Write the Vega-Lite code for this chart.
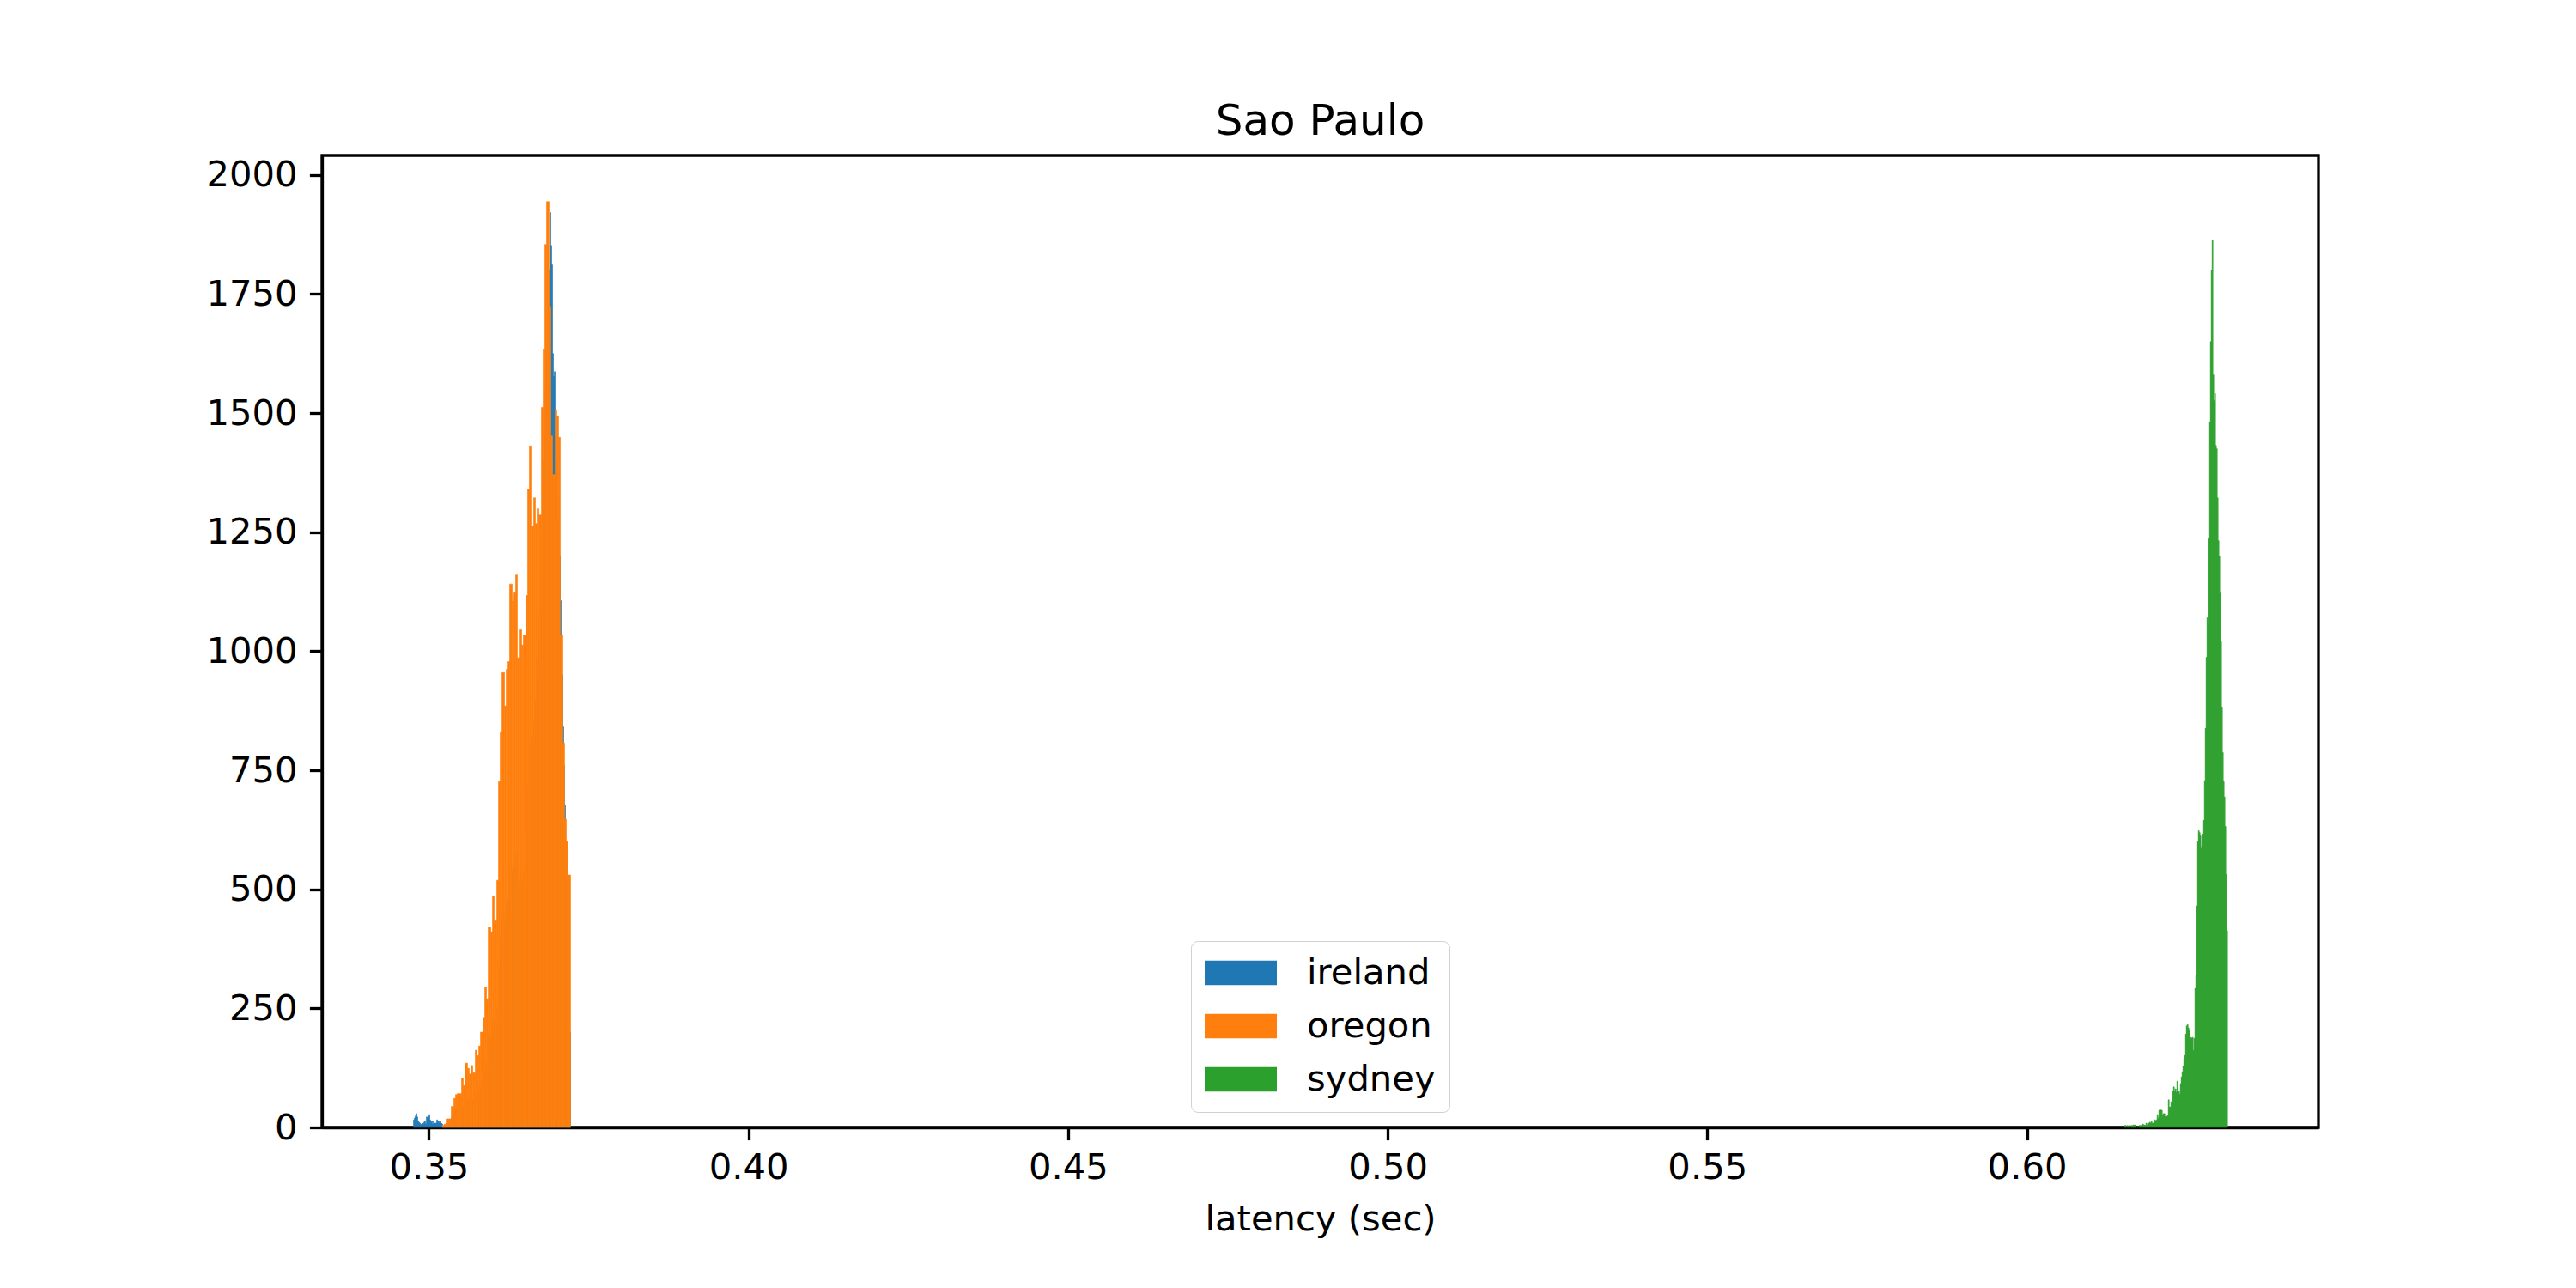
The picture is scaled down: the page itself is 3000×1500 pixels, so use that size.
{
"$schema": "https://vega.github.io/schema/vega-lite/v6.json",
"autosize": {"type": "none"},
"padding": {"left": 375, "top": 181, "right": 300, "bottom": 187},
"width": 2325,
"height": 1132,
"background": "white",
"title": {"text": "Sao Paulo", "fontSize": 50, "font": "DejaVu Sans", "fontWeight": "normal", "color": "black", "offset": 14.5, "anchor": "middle"},
"config": {
  "view": {"stroke": "black", "strokeWidth": 3.3},
  "axis": {"domainColor": "black", "domainWidth": 3.3, "tickColor": "black", "tickWidth": 3.3, "tickSize": 14.6, "labelFont": "DejaVu Sans", "labelFontSize": 41.7, "labelColor": "black", "grid": false, "titleFont": "DejaVu Sans", "titleFontSize": 41.7, "titleFontWeight": "normal", "titleColor": "black", "zindex": 1, "labelFlush": false, "labelOverlap": false}
},
"data": {"values": [
{"s":"ireland","lo":0.347542,"hi":0.347676,"n":16},
{"s":"ireland","lo":0.347676,"hi":0.347811,"n":20},
{"s":"ireland","lo":0.347811,"hi":0.347945,"n":24},
{"s":"ireland","lo":0.347945,"hi":0.348079,"n":29},
{"s":"ireland","lo":0.348079,"hi":0.348214,"n":22},
{"s":"ireland","lo":0.348214,"hi":0.348348,"n":14},
{"s":"ireland","lo":0.348348,"hi":0.348482,"n":11},
{"s":"ireland","lo":0.348482,"hi":0.348616,"n":9},
{"s":"ireland","lo":0.348616,"hi":0.348751,"n":7},
{"s":"ireland","lo":0.348751,"hi":0.348885,"n":5},
{"s":"ireland","lo":0.348885,"hi":0.349019,"n":9},
{"s":"ireland","lo":0.349019,"hi":0.349154,"n":7},
{"s":"ireland","lo":0.349154,"hi":0.349288,"n":11},
{"s":"ireland","lo":0.349288,"hi":0.349422,"n":14},
{"s":"ireland","lo":0.349422,"hi":0.349557,"n":7},
{"s":"ireland","lo":0.349557,"hi":0.349691,"n":22},
{"s":"ireland","lo":0.349691,"hi":0.349825,"n":20},
{"s":"ireland","lo":0.349825,"hi":0.349960,"n":22},
{"s":"ireland","lo":0.349960,"hi":0.350094,"n":27},
{"s":"ireland","lo":0.350094,"hi":0.350228,"n":16},
{"s":"ireland","lo":0.350228,"hi":0.350362,"n":11},
{"s":"ireland","lo":0.350362,"hi":0.350497,"n":13},
{"s":"ireland","lo":0.350497,"hi":0.350631,"n":7},
{"s":"ireland","lo":0.350631,"hi":0.350765,"n":13},
{"s":"ireland","lo":0.350765,"hi":0.350900,"n":9},
{"s":"ireland","lo":0.350900,"hi":0.351034,"n":9},
{"s":"ireland","lo":0.351034,"hi":0.351168,"n":9},
{"s":"ireland","lo":0.351168,"hi":0.351303,"n":16},
{"s":"ireland","lo":0.351303,"hi":0.351437,"n":14},
{"s":"ireland","lo":0.351437,"hi":0.351571,"n":13},
{"s":"ireland","lo":0.351571,"hi":0.351705,"n":9},
{"s":"ireland","lo":0.351705,"hi":0.351840,"n":13},
{"s":"ireland","lo":0.351840,"hi":0.351974,"n":9},
{"s":"ireland","lo":0.351974,"hi":0.352108,"n":7},
{"s":"ireland","lo":0.352108,"hi":0.352243,"n":3},
{"s":"ireland","lo":0.352243,"hi":0.352377,"n":3},
{"s":"ireland","lo":0.352377,"hi":0.352511,"n":4},
{"s":"ireland","lo":0.352511,"hi":0.352646,"n":5},
{"s":"ireland","lo":0.352646,"hi":0.352780,"n":8},
{"s":"ireland","lo":0.352780,"hi":0.352914,"n":9},
{"s":"ireland","lo":0.352914,"hi":0.353048,"n":8},
{"s":"ireland","lo":0.353048,"hi":0.353183,"n":10},
{"s":"ireland","lo":0.353183,"hi":0.353317,"n":12},
{"s":"ireland","lo":0.353317,"hi":0.353451,"n":11},
{"s":"ireland","lo":0.353451,"hi":0.353586,"n":20},
{"s":"ireland","lo":0.353586,"hi":0.353720,"n":22},
{"s":"ireland","lo":0.353720,"hi":0.353854,"n":25},
{"s":"ireland","lo":0.353854,"hi":0.353989,"n":30},
{"s":"ireland","lo":0.353989,"hi":0.354123,"n":28},
{"s":"ireland","lo":0.354123,"hi":0.354257,"n":34},
{"s":"ireland","lo":0.354257,"hi":0.354391,"n":31},
{"s":"ireland","lo":0.354391,"hi":0.354526,"n":35},
{"s":"ireland","lo":0.354526,"hi":0.354660,"n":33},
{"s":"ireland","lo":0.354660,"hi":0.354794,"n":36},
{"s":"ireland","lo":0.354794,"hi":0.354929,"n":38},
{"s":"ireland","lo":0.354929,"hi":0.355063,"n":34},
{"s":"ireland","lo":0.355063,"hi":0.355197,"n":50},
{"s":"ireland","lo":0.355197,"hi":0.355332,"n":46},
{"s":"ireland","lo":0.355332,"hi":0.355466,"n":44},
{"s":"ireland","lo":0.355466,"hi":0.355600,"n":41},
{"s":"ireland","lo":0.355600,"hi":0.355734,"n":62},
{"s":"ireland","lo":0.355734,"hi":0.355869,"n":66},
{"s":"ireland","lo":0.355869,"hi":0.356003,"n":60},
{"s":"ireland","lo":0.356003,"hi":0.356137,"n":58},
{"s":"ireland","lo":0.356137,"hi":0.356272,"n":61},
{"s":"ireland","lo":0.356272,"hi":0.356406,"n":55},
{"s":"ireland","lo":0.356406,"hi":0.356540,"n":52},
{"s":"ireland","lo":0.356540,"hi":0.356675,"n":63},
{"s":"ireland","lo":0.356675,"hi":0.356809,"n":60},
{"s":"ireland","lo":0.356809,"hi":0.356943,"n":55},
{"s":"ireland","lo":0.356943,"hi":0.357077,"n":58},
{"s":"ireland","lo":0.357077,"hi":0.357212,"n":53},
{"s":"ireland","lo":0.357212,"hi":0.357346,"n":75},
{"s":"ireland","lo":0.357346,"hi":0.357480,"n":78},
{"s":"ireland","lo":0.357480,"hi":0.357615,"n":72},
{"s":"ireland","lo":0.357615,"hi":0.357749,"n":70},
{"s":"ireland","lo":0.357749,"hi":0.357883,"n":82},
{"s":"ireland","lo":0.357883,"hi":0.358018,"n":80},
{"s":"ireland","lo":0.358018,"hi":0.358152,"n":95},
{"s":"ireland","lo":0.358152,"hi":0.358286,"n":98},
{"s":"ireland","lo":0.358286,"hi":0.358420,"n":92},
{"s":"ireland","lo":0.358420,"hi":0.358555,"n":110},
{"s":"ireland","lo":0.358555,"hi":0.358689,"n":115},
{"s":"ireland","lo":0.358689,"hi":0.358823,"n":140},
{"s":"ireland","lo":0.358823,"hi":0.358958,"n":135},
{"s":"ireland","lo":0.358958,"hi":0.359092,"n":128},
{"s":"ireland","lo":0.359092,"hi":0.359226,"n":125},
{"s":"ireland","lo":0.359226,"hi":0.359361,"n":195},
{"s":"ireland","lo":0.359361,"hi":0.359495,"n":200},
{"s":"ireland","lo":0.359495,"hi":0.359629,"n":190},
{"s":"ireland","lo":0.359629,"hi":0.359763,"n":190},
{"s":"ireland","lo":0.359763,"hi":0.359898,"n":198},
{"s":"ireland","lo":0.359898,"hi":0.360032,"n":230},
{"s":"ireland","lo":0.360032,"hi":0.360166,"n":225},
{"s":"ireland","lo":0.360166,"hi":0.360301,"n":210},
{"s":"ireland","lo":0.360301,"hi":0.360435,"n":205},
{"s":"ireland","lo":0.360435,"hi":0.360569,"n":215},
{"s":"ireland","lo":0.360569,"hi":0.360704,"n":250},
{"s":"ireland","lo":0.360704,"hi":0.360838,"n":245},
{"s":"ireland","lo":0.360838,"hi":0.360972,"n":340},
{"s":"ireland","lo":0.360972,"hi":0.361106,"n":350},
{"s":"ireland","lo":0.361106,"hi":0.361241,"n":400},
{"s":"ireland","lo":0.361241,"hi":0.361375,"n":390},
{"s":"ireland","lo":0.361375,"hi":0.361509,"n":450},
{"s":"ireland","lo":0.361509,"hi":0.361644,"n":460},
{"s":"ireland","lo":0.361644,"hi":0.361778,"n":440},
{"s":"ireland","lo":0.361778,"hi":0.361912,"n":420},
{"s":"ireland","lo":0.361912,"hi":0.362047,"n":430},
{"s":"ireland","lo":0.362047,"hi":0.362181,"n":470},
{"s":"ireland","lo":0.362181,"hi":0.362315,"n":460},
{"s":"ireland","lo":0.362315,"hi":0.362449,"n":480},
{"s":"ireland","lo":0.362449,"hi":0.362584,"n":470},
{"s":"ireland","lo":0.362584,"hi":0.362718,"n":550},
{"s":"ireland","lo":0.362718,"hi":0.362852,"n":560},
{"s":"ireland","lo":0.362852,"hi":0.362987,"n":540},
{"s":"ireland","lo":0.362987,"hi":0.363121,"n":530},
{"s":"ireland","lo":0.363121,"hi":0.363255,"n":540},
{"s":"ireland","lo":0.363255,"hi":0.363390,"n":550},
{"s":"ireland","lo":0.363390,"hi":0.363524,"n":545},
{"s":"ireland","lo":0.363524,"hi":0.363658,"n":570},
{"s":"ireland","lo":0.363658,"hi":0.363792,"n":580},
{"s":"ireland","lo":0.363792,"hi":0.363927,"n":500},
{"s":"ireland","lo":0.363927,"hi":0.364061,"n":510},
{"s":"ireland","lo":0.364061,"hi":0.364195,"n":490},
{"s":"ireland","lo":0.364195,"hi":0.364330,"n":520},
{"s":"ireland","lo":0.364330,"hi":0.364464,"n":530},
{"s":"ireland","lo":0.364464,"hi":0.364598,"n":510},
{"s":"ireland","lo":0.364598,"hi":0.364733,"n":520},
{"s":"ireland","lo":0.364733,"hi":0.364867,"n":540},
{"s":"ireland","lo":0.364867,"hi":0.365001,"n":560},
{"s":"ireland","lo":0.365001,"hi":0.365135,"n":550},
{"s":"ireland","lo":0.365135,"hi":0.365270,"n":600},
{"s":"ireland","lo":0.365270,"hi":0.365404,"n":620},
{"s":"ireland","lo":0.365404,"hi":0.365538,"n":720},
{"s":"ireland","lo":0.365538,"hi":0.365673,"n":740},
{"s":"ireland","lo":0.365673,"hi":0.365807,"n":800},
{"s":"ireland","lo":0.365807,"hi":0.365941,"n":820},
{"s":"ireland","lo":0.365941,"hi":0.366076,"n":760},
{"s":"ireland","lo":0.366076,"hi":0.366210,"n":780},
{"s":"ireland","lo":0.366210,"hi":0.366344,"n":800},
{"s":"ireland","lo":0.366344,"hi":0.366478,"n":850},
{"s":"ireland","lo":0.366478,"hi":0.366613,"n":880},
{"s":"ireland","lo":0.366613,"hi":0.366747,"n":900},
{"s":"ireland","lo":0.366747,"hi":0.366881,"n":930},
{"s":"ireland","lo":0.366881,"hi":0.367016,"n":980},
{"s":"ireland","lo":0.367016,"hi":0.367150,"n":1020},
{"s":"ireland","lo":0.367150,"hi":0.367284,"n":1080},
{"s":"ireland","lo":0.367284,"hi":0.367419,"n":1120},
{"s":"ireland","lo":0.367419,"hi":0.367553,"n":1160},
{"s":"ireland","lo":0.367553,"hi":0.367687,"n":1250},
{"s":"ireland","lo":0.367687,"hi":0.367821,"n":1300},
{"s":"ireland","lo":0.367821,"hi":0.367956,"n":1400},
{"s":"ireland","lo":0.367956,"hi":0.368090,"n":1450},
{"s":"ireland","lo":0.368090,"hi":0.368224,"n":1550},
{"s":"ireland","lo":0.368224,"hi":0.368359,"n":1620},
{"s":"ireland","lo":0.368359,"hi":0.368493,"n":1700},
{"s":"ireland","lo":0.368493,"hi":0.368627,"n":1750},
{"s":"ireland","lo":0.368627,"hi":0.368762,"n":1800},
{"s":"ireland","lo":0.368762,"hi":0.368896,"n":1690},
{"s":"ireland","lo":0.368896,"hi":0.369030,"n":1921},
{"s":"ireland","lo":0.369030,"hi":0.369164,"n":1852},
{"s":"ireland","lo":0.369164,"hi":0.369299,"n":1811},
{"s":"ireland","lo":0.369299,"hi":0.369433,"n":1625},
{"s":"ireland","lo":0.369433,"hi":0.369567,"n":1577},
{"s":"ireland","lo":0.369567,"hi":0.369702,"n":1587},
{"s":"ireland","lo":0.369702,"hi":0.369836,"n":1450},
{"s":"ireland","lo":0.369836,"hi":0.369970,"n":1400},
{"s":"ireland","lo":0.369970,"hi":0.370105,"n":1380},
{"s":"ireland","lo":0.370105,"hi":0.370239,"n":1330},
{"s":"ireland","lo":0.370239,"hi":0.370373,"n":1280},
{"s":"ireland","lo":0.370373,"hi":0.370507,"n":1200},
{"s":"ireland","lo":0.370507,"hi":0.370642,"n":1106},
{"s":"ireland","lo":0.370642,"hi":0.370776,"n":1000},
{"s":"ireland","lo":0.370776,"hi":0.370910,"n":950},
{"s":"ireland","lo":0.370910,"hi":0.371045,"n":841},
{"s":"ireland","lo":0.371045,"hi":0.371179,"n":760},
{"s":"ireland","lo":0.371179,"hi":0.371313,"n":676},
{"s":"ireland","lo":0.371313,"hi":0.371448,"n":600},
{"s":"ireland","lo":0.371448,"hi":0.371582,"n":520},
{"s":"ireland","lo":0.371582,"hi":0.371716,"n":450},
{"s":"ireland","lo":0.371716,"hi":0.371850,"n":380},
{"s":"ireland","lo":0.371850,"hi":0.371985,"n":300},
{"s":"ireland","lo":0.371985,"hi":0.372119,"n":200},
{"s":"oregon","lo":0.35202,"hi":0.35233,"n":4},
{"s":"oregon","lo":0.35233,"hi":0.35265,"n":7},
{"s":"oregon","lo":0.35265,"hi":0.35305,"n":18},
{"s":"oregon","lo":0.35305,"hi":0.35345,"n":18},
{"s":"oregon","lo":0.35345,"hi":0.35385,"n":44},
{"s":"oregon","lo":0.35385,"hi":0.35412,"n":61},
{"s":"oregon","lo":0.35412,"hi":0.35439,"n":69},
{"s":"oregon","lo":0.35439,"hi":0.35466,"n":71},
{"s":"oregon","lo":0.35466,"hi":0.35506,"n":71},
{"s":"oregon","lo":0.35506,"hi":0.35533,"n":103},
{"s":"oregon","lo":0.35533,"hi":0.35560,"n":88},
{"s":"oregon","lo":0.35560,"hi":0.35600,"n":135},
{"s":"oregon","lo":0.35600,"hi":0.35627,"n":124},
{"s":"oregon","lo":0.35627,"hi":0.35654,"n":112},
{"s":"oregon","lo":0.35654,"hi":0.35681,"n":130},
{"s":"oregon","lo":0.35681,"hi":0.35721,"n":115},
{"s":"oregon","lo":0.35721,"hi":0.35748,"n":162},
{"s":"oregon","lo":0.35748,"hi":0.35775,"n":151},
{"s":"oregon","lo":0.35775,"hi":0.35802,"n":171},
{"s":"oregon","lo":0.35802,"hi":0.35842,"n":200},
{"s":"oregon","lo":0.35842,"hi":0.35869,"n":231},
{"s":"oregon","lo":0.35869,"hi":0.35896,"n":294},
{"s":"oregon","lo":0.35896,"hi":0.35923,"n":270},
{"s":"oregon","lo":0.35923,"hi":0.35963,"n":420},
{"s":"oregon","lo":0.35963,"hi":0.35990,"n":411},
{"s":"oregon","lo":0.35990,"hi":0.36017,"n":485},
{"s":"oregon","lo":0.36017,"hi":0.36057,"n":434},
{"s":"oregon","lo":0.36057,"hi":0.36084,"n":519},
{"s":"oregon","lo":0.36084,"hi":0.36111,"n":726},
{"s":"oregon","lo":0.36111,"hi":0.36138,"n":831},
{"s":"oregon","lo":0.36138,"hi":0.36178,"n":955},
{"s":"oregon","lo":0.36178,"hi":0.36205,"n":885},
{"s":"oregon","lo":0.36205,"hi":0.36232,"n":962},
{"s":"oregon","lo":0.36232,"hi":0.36258,"n":978},
{"s":"oregon","lo":0.36258,"hi":0.36299,"n":1141},
{"s":"oregon","lo":0.36299,"hi":0.36326,"n":1105},
{"s":"oregon","lo":0.36326,"hi":0.36352,"n":1123},
{"s":"oregon","lo":0.36352,"hi":0.36379,"n":1160},
{"s":"oregon","lo":0.36379,"hi":0.36420,"n":986},
{"s":"oregon","lo":0.36420,"hi":0.36446,"n":1045},
{"s":"oregon","lo":0.36446,"hi":0.36473,"n":1013},
{"s":"oregon","lo":0.36473,"hi":0.36514,"n":1034},
{"s":"oregon","lo":0.36514,"hi":0.36540,"n":1117},
{"s":"oregon","lo":0.36540,"hi":0.36567,"n":1340},
{"s":"oregon","lo":0.36567,"hi":0.36594,"n":1431},
{"s":"oregon","lo":0.36594,"hi":0.36634,"n":1263},
{"s":"oregon","lo":0.36634,"hi":0.36661,"n":1322},
{"s":"oregon","lo":0.36661,"hi":0.36688,"n":1268},
{"s":"oregon","lo":0.36688,"hi":0.36715,"n":1299},
{"s":"oregon","lo":0.36715,"hi":0.36755,"n":1286},
{"s":"oregon","lo":0.36755,"hi":0.36782,"n":1512},
{"s":"oregon","lo":0.36782,"hi":0.36809,"n":1634},
{"s":"oregon","lo":0.36809,"hi":0.36836,"n":1854},
{"s":"oregon","lo":0.36836,"hi":0.36876,"n":1944},
{"s":"oregon","lo":0.36876,"hi":0.36903,"n":1724},
{"s":"oregon","lo":0.36903,"hi":0.36930,"n":1452},
{"s":"oregon","lo":0.36930,"hi":0.36970,"n":1371},
{"s":"oregon","lo":0.36970,"hi":0.36997,"n":1506},
{"s":"oregon","lo":0.36997,"hi":0.37024,"n":1494},
{"s":"oregon","lo":0.37024,"hi":0.37051,"n":1449},
{"s":"oregon","lo":0.37051,"hi":0.37091,"n":1034},
{"s":"oregon","lo":0.37091,"hi":0.37118,"n":807},
{"s":"oregon","lo":0.37118,"hi":0.37145,"n":647},
{"s":"oregon","lo":0.37145,"hi":0.37172,"n":600},
{"s":"oregon","lo":0.37172,"hi":0.37212,"n":530},
{"s":"sydney","lo":0.615203,"hi":0.615338,"n":4},
{"s":"sydney","lo":0.615338,"hi":0.615472,"n":4},
{"s":"sydney","lo":0.615606,"hi":0.615741,"n":4},
{"s":"sydney","lo":0.615741,"hi":0.615875,"n":2},
{"s":"sydney","lo":0.615875,"hi":0.616009,"n":2},
{"s":"sydney","lo":0.616009,"hi":0.616143,"n":4},
{"s":"sydney","lo":0.616278,"hi":0.616412,"n":4},
{"s":"sydney","lo":0.616412,"hi":0.616546,"n":4},
{"s":"sydney","lo":0.616546,"hi":0.616681,"n":5},
{"s":"sydney","lo":0.616681,"hi":0.616815,"n":5},
{"s":"sydney","lo":0.616815,"hi":0.616949,"n":5},
{"s":"sydney","lo":0.617218,"hi":0.617352,"n":2},
{"s":"sydney","lo":0.617486,"hi":0.617621,"n":4},
{"s":"sydney","lo":0.617621,"hi":0.617755,"n":4},
{"s":"sydney","lo":0.617755,"hi":0.617889,"n":4},
{"s":"sydney","lo":0.617889,"hi":0.618024,"n":5},
{"s":"sydney","lo":0.618024,"hi":0.618158,"n":7},
{"s":"sydney","lo":0.618158,"hi":0.618292,"n":5},
{"s":"sydney","lo":0.618292,"hi":0.618427,"n":5},
{"s":"sydney","lo":0.618427,"hi":0.618561,"n":4},
{"s":"sydney","lo":0.618561,"hi":0.618695,"n":9},
{"s":"sydney","lo":0.618695,"hi":0.618829,"n":5},
{"s":"sydney","lo":0.618829,"hi":0.618964,"n":7},
{"s":"sydney","lo":0.618964,"hi":0.619098,"n":9},
{"s":"sydney","lo":0.619098,"hi":0.619232,"n":11},
{"s":"sydney","lo":0.619232,"hi":0.619367,"n":9},
{"s":"sydney","lo":0.619367,"hi":0.619501,"n":13},
{"s":"sydney","lo":0.619501,"hi":0.619635,"n":9},
{"s":"sydney","lo":0.619635,"hi":0.619770,"n":9},
{"s":"sydney","lo":0.619770,"hi":0.619904,"n":11},
{"s":"sydney","lo":0.619904,"hi":0.620038,"n":16},
{"s":"sydney","lo":0.620038,"hi":0.620172,"n":14},
{"s":"sydney","lo":0.620172,"hi":0.620307,"n":16},
{"s":"sydney","lo":0.620307,"hi":0.620441,"n":27},
{"s":"sydney","lo":0.620441,"hi":0.620575,"n":20},
{"s":"sydney","lo":0.620575,"hi":0.620710,"n":36},
{"s":"sydney","lo":0.620710,"hi":0.620844,"n":38},
{"s":"sydney","lo":0.620844,"hi":0.620978,"n":36},
{"s":"sydney","lo":0.620978,"hi":0.621113,"n":36},
{"s":"sydney","lo":0.621113,"hi":0.621247,"n":25},
{"s":"sydney","lo":0.621247,"hi":0.621381,"n":29},
{"s":"sydney","lo":0.621381,"hi":0.621515,"n":29},
{"s":"sydney","lo":0.621515,"hi":0.621650,"n":23},
{"s":"sydney","lo":0.621650,"hi":0.621784,"n":23},
{"s":"sydney","lo":0.621784,"hi":0.621918,"n":23},
{"s":"sydney","lo":0.621918,"hi":0.622053,"n":25},
{"s":"sydney","lo":0.622053,"hi":0.622187,"n":58},
{"s":"sydney","lo":0.622187,"hi":0.622321,"n":43},
{"s":"sydney","lo":0.622321,"hi":0.622456,"n":43},
{"s":"sydney","lo":0.622456,"hi":0.622590,"n":54},
{"s":"sydney","lo":0.622590,"hi":0.622724,"n":50},
{"s":"sydney","lo":0.622724,"hi":0.622858,"n":76},
{"s":"sydney","lo":0.622858,"hi":0.622993,"n":85},
{"s":"sydney","lo":0.622993,"hi":0.623127,"n":76},
{"s":"sydney","lo":0.623127,"hi":0.623261,"n":81},
{"s":"sydney","lo":0.623261,"hi":0.623396,"n":74},
{"s":"sydney","lo":0.623396,"hi":0.623530,"n":97},
{"s":"sydney","lo":0.623530,"hi":0.623664,"n":74},
{"s":"sydney","lo":0.623664,"hi":0.623799,"n":76},
{"s":"sydney","lo":0.623799,"hi":0.623933,"n":70},
{"s":"sydney","lo":0.623933,"hi":0.624067,"n":92},
{"s":"sydney","lo":0.624067,"hi":0.624201,"n":106},
{"s":"sydney","lo":0.624201,"hi":0.624336,"n":117},
{"s":"sydney","lo":0.624336,"hi":0.624470,"n":128},
{"s":"sydney","lo":0.624470,"hi":0.624604,"n":144},
{"s":"sydney","lo":0.624604,"hi":0.624739,"n":151},
{"s":"sydney","lo":0.624739,"hi":0.624873,"n":196},
{"s":"sydney","lo":0.624873,"hi":0.625007,"n":213},
{"s":"sydney","lo":0.625007,"hi":0.625142,"n":216},
{"s":"sydney","lo":0.625142,"hi":0.625276,"n":209},
{"s":"sydney","lo":0.625276,"hi":0.625410,"n":204},
{"s":"sydney","lo":0.625410,"hi":0.625544,"n":186},
{"s":"sydney","lo":0.625544,"hi":0.625679,"n":189},
{"s":"sydney","lo":0.625679,"hi":0.625813,"n":187},
{"s":"sydney","lo":0.625813,"hi":0.625947,"n":189},
{"s":"sydney","lo":0.625947,"hi":0.626082,"n":162},
{"s":"sydney","lo":0.626082,"hi":0.626216,"n":187},
{"s":"sydney","lo":0.626216,"hi":0.626350,"n":292},
{"s":"sydney","lo":0.626350,"hi":0.626485,"n":319},
{"s":"sydney","lo":0.626485,"hi":0.626619,"n":465},
{"s":"sydney","lo":0.626619,"hi":0.626753,"n":600},
{"s":"sydney","lo":0.626753,"hi":0.626887,"n":623},
{"s":"sydney","lo":0.626887,"hi":0.627022,"n":619},
{"s":"sydney","lo":0.627022,"hi":0.627156,"n":612},
{"s":"sydney","lo":0.627156,"hi":0.627290,"n":588},
{"s":"sydney","lo":0.627290,"hi":0.627425,"n":592},
{"s":"sydney","lo":0.627425,"hi":0.627559,"n":616},
{"s":"sydney","lo":0.627559,"hi":0.627693,"n":645},
{"s":"sydney","lo":0.627693,"hi":0.627828,"n":728},
{"s":"sydney","lo":0.627828,"hi":0.627962,"n":838},
{"s":"sydney","lo":0.627962,"hi":0.628096,"n":987},
{"s":"sydney","lo":0.628096,"hi":0.628230,"n":1070},
{"s":"sydney","lo":0.628230,"hi":0.628365,"n":1059},
{"s":"sydney","lo":0.628365,"hi":0.628499,"n":1236},
{"s":"sydney","lo":0.628499,"hi":0.628633,"n":1481},
{"s":"sydney","lo":0.628633,"hi":0.628768,"n":1650},
{"s":"sydney","lo":0.628768,"hi":0.628902,"n":1800},
{"s":"sydney","lo":0.628902,"hi":0.629036,"n":1863},
{"s":"sydney","lo":0.629036,"hi":0.629171,"n":1580},
{"s":"sydney","lo":0.629171,"hi":0.629305,"n":1526},
{"s":"sydney","lo":0.629305,"hi":0.629439,"n":1541},
{"s":"sydney","lo":0.629439,"hi":0.629573,"n":1432},
{"s":"sydney","lo":0.629573,"hi":0.629708,"n":1425},
{"s":"sydney","lo":0.629708,"hi":0.629842,"n":1322},
{"s":"sydney","lo":0.629842,"hi":0.629976,"n":1232},
{"s":"sydney","lo":0.629976,"hi":0.630111,"n":1200},
{"s":"sydney","lo":0.630111,"hi":0.630245,"n":1122},
{"s":"sydney","lo":0.630245,"hi":0.630379,"n":1020},
{"s":"sydney","lo":0.630379,"hi":0.630514,"n":883},
{"s":"sydney","lo":0.630514,"hi":0.630648,"n":787},
{"s":"sydney","lo":0.630648,"hi":0.630782,"n":726},
{"s":"sydney","lo":0.630782,"hi":0.630916,"n":694},
{"s":"sydney","lo":0.630916,"hi":0.631051,"n":632},
{"s":"sydney","lo":0.631051,"hi":0.631185,"n":531},
{"s":"sydney","lo":0.631185,"hi":0.631319,"n":413}
]},
"mark": {"type": "bar", "binSpacing": 0, "opacity": 1, "strokeWidth": 0.6},
"encoding": {
  "x": {"field": "lo", "type": "quantitative", "bin": "binned",
        "scale": {"domain": [0.3333, 0.6456], "nice": false, "zero": false},
        "axis": {"title": "latency (sec)", "values": [0.35, 0.4, 0.45, 0.5, 0.55, 0.6], "format": ".2f", "labelPadding": 12, "titlePadding": 18}},
  "x2": {"field": "hi"},
  "y": {"field": "n", "type": "quantitative", "stack": null,
        "scale": {"domain": [0, 2041], "nice": false, "zero": true},
        "axis": {"title": null, "values": [0, 250, 500, 750, 1000, 1250, 1500, 1750, 2000], "format": "d", "labelPadding": 14.4}},
  "stroke": {"field": "s", "type": "nominal",
            "scale": {"domain": ["ireland", "oregon", "sydney"], "range": ["#1f77b4", "#ff7f0e", "#2ca02c"]},
            "legend": null},
  "color": {"field": "s", "type": "nominal",
            "scale": {"domain": ["ireland", "oregon", "sydney"], "range": ["#1f77b4", "#ff7f0e", "#2ca02c"]},
            "legend": {"orient": "none", "legendX": 1012, "legendY": 915, "title": null,
                       "symbolType": "M-1,-0.342H1V0.342H-1Z", "symbolSize": 7056, "symbolStrokeWidth": 0, "symbolOpacity": 1,
                       "labelFont": "DejaVu Sans", "labelFontSize": 41.7, "labelColor": "black", "labelOffset": 35,
                       "clipHeight": 42, "rowPadding": 19, "padding": 16, "strokeColor": "#d0d0d0", "cornerRadius": 8, "fillColor": "white"}}
}
}
